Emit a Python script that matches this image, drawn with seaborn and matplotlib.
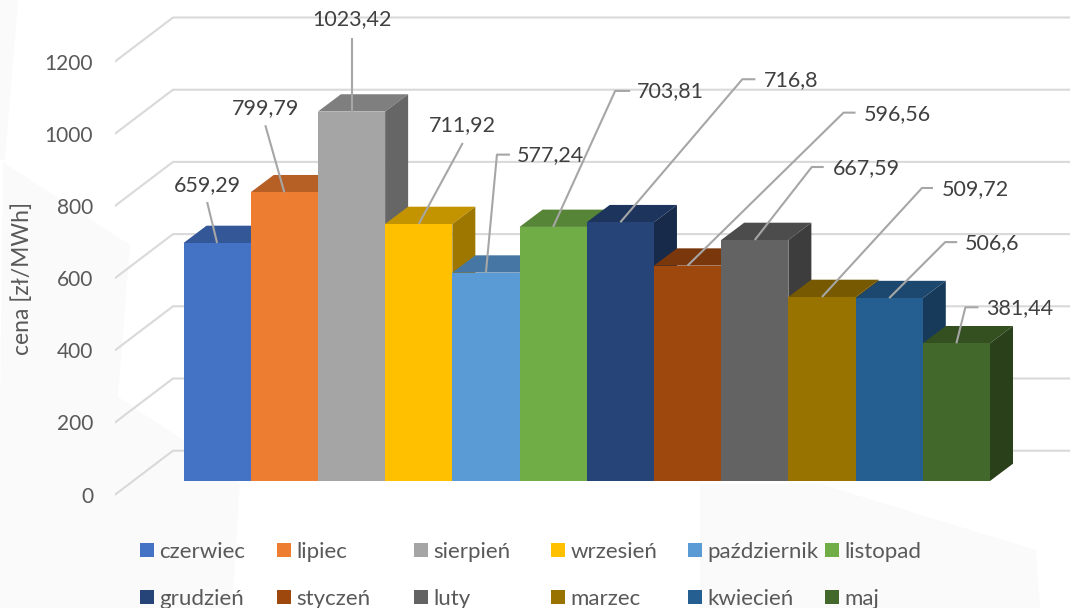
import matplotlib
matplotlib.use("Agg")
import matplotlib.pyplot as plt
import matplotlib.colors as mcolors
from matplotlib.patches import Polygon
from matplotlib.transforms import ScaledTranslation
import pandas as pd
import seaborn as sns

miesiace = ['czerwiec', 'lipiec', 'sierpień', 'wrzesień', 'październik', 'listopad',
            'grudzień', 'styczeń', 'luty', 'marzec', 'kwiecień', 'maj']
ceny = [659.29, 799.79, 1023.42, 711.92, 577.24, 703.81,
        716.8, 596.56, 667.59, 509.72, 506.6, 381.44]
etykiety = ['659,29', '799,79', '1023,42', '711,92', '577,24', '703,81',
            '716,8', '596,56', '667,59', '509,72', '506,6', '381,44']
kolory = ['#4472C4', '#ED7D31', '#A5A5A5', '#FFC000', '#5B9BD5', '#70AD47',
          '#264478', '#9E480E', '#636363', '#997300', '#255E91', '#43682B']
ticki = [0, 200, 400, 600, 800, 1000, 1200]

# uklad w pikselach
W, H = 1070, 608
BAR_L, BAR_R, BASE = 183.5, 990.0, 481.0
PX_Y = 0.361                    # piksele na 1 zl
PX_X = (BAR_R - BAR_L) / 12     # piksele na 1 slupek
AX_L = 115
DEPTH_X, DEPTH_Y = 23, 17.3     # glebokosc slupka
WALL_X, WALL_BACK, WALL_FRONT = 58, 30.3, 13.7

# odnosniki: (zalamanie dx, dy, koniec dx, tekst dx, tekst dy, wyrownanie)
odnosniki = [
    (-10, 41, -10, -10, 58, 'center'),
    (-19, 67, -19, -19, 84, 'center'),
    (0, 74, 0, 0, 92, 'center'),
    (44, 81, 44, 44, 99, 'center'),
    (11, 118, 24, 31, 118, 'left'),
    (62, 136, 77, 84, 136, 'left'),
    (122, 143, 135, 144, 142, 'left'),
    (156, 153, 168, 176, 152, 'left'),
    (57, 73, 69, 78, 72, 'left'),
    (100, 109, 111, 120, 108, 'left'),
    (56, 56, 68, 76, 55, 'left'),
    (9, 36, 22, 30, 35, 'left'),
]

tlo = [
    [(0, 0), (18, 0), (5, 160), (0, 160)],
    [(3, 162), (130, 245), (118, 397), (0, 420)],
    [(0, 420), (118, 397), (183, 440), (240, 484), (232, 608), (0, 608)],
    [(700, 484), (820, 484), (1036, 550), (1040, 608), (700, 608)],
]


def px2x(px):
    return (px - BAR_L) / PX_X - 0.5


def ciemniej(kolor, f):
    return tuple(c * f for c in mcolors.to_rgb(kolor))


df = pd.DataFrame({'miesiac': miesiace, 'cena': ceny})

sns.set_theme(style='white')
plt.rcParams['font.family'] = ['Lato', 'DejaVu Sans']

fig = plt.figure(figsize=(W / 100, H / 100), dpi=100, facecolor='#ffffff')
ax = fig.add_axes([AX_L / W, 0, 1 - AX_L / W, 1])
ax.patch.set_visible(False)

for wiel in tlo:
    fig.add_artist(Polygon([(x / W, 1 - y / H) for x, y in wiel], closed=True,
                           transform=fig.transFigure, fc='#fafafa', ec='none', zorder=-5))

sns.barplot(data=df, x='miesiac', y='cena', hue='miesiac', order=miesiace,
            hue_order=miesiace, palette=kolory, width=1.0, dodge=False,
            legend=False, saturation=1, ax=ax)

ax.set_xlim(px2x(AX_L), px2x(W))
ax.set_ylim(-(H - BASE) / PX_Y, BASE / PX_Y)
ax.set_xlabel('')
ax.set_xticks([])
sns.despine(ax=ax, left=True, bottom=True)

# sciany wykresu
for t in ticki:
    ax.plot([px2x(AX_L), px2x(AX_L + WALL_X), px2x(W)],
            [t - WALL_FRONT / PX_Y, t + WALL_BACK / PX_Y, t + WALL_BACK / PX_Y],
            color='#d9d9d9', lw=1.5, zorder=0.5, solid_joinstyle='miter')

# slupki 3D, od lewej do prawej
dx, dy = DEPTH_X / PX_X, DEPTH_Y / PX_Y
uchwyty = []
for i, (cena, kolor) in enumerate(zip(ceny, kolory)):
    x0, x1 = i - 0.5, i + 0.5
    ax.fill([x0, x1, x1 + dx, x0 + dx], [cena, cena, cena + dy, cena + dy],
            color=ciemniej(kolor, 0.77), lw=0, zorder=1 + 3 * i)
    ax.fill([x1, x1 + dx, x1 + dx, x1], [0, dy, cena + dy, cena],
            color=ciemniej(kolor, 0.62), lw=0, zorder=2 + 3 * i)
    front = ax.containers[i][0]
    front.set_zorder(3 + 3 * i)
    front.set_linewidth(0)
    uchwyty.append(front)

# etykiety danych z odnosnikami
for i, (cena, tekst, o) in enumerate(zip(ceny, etykiety, odnosniki)):
    ex, ey, kx, tx, ty, ha = o
    ax.plot([i, i + ex / PX_X, i + kx / PX_X],
            [cena, cena + ey / PX_Y, cena + ey / PX_Y],
            color='#a6a6a6', lw=1.5, zorder=60, solid_capstyle='butt')
    ax.text(i + tx / PX_X, cena + ty / PX_Y, tekst, ha=ha, va='center',
            fontsize=15.5, color='#404040', zorder=61)

# os y
ax.set_yticks(ticki)
ax.set_yticklabels([str(t) for t in ticki], fontsize=15, color='#595959')
ax.tick_params(axis='y', length=0, pad=15.8)
przes = ScaledTranslation(0, -WALL_FRONT / 100, fig.dpi_scale_trans)
for lab in ax.get_yticklabels():
    lab.set_transform(lab.get_transform() + przes)
ax.set_ylabel('cena [zł/MWh]', fontsize=16.5, color='#595959', va='center')
ax.yaxis.set_label_coords((22 - AX_L) / (W - AX_L), 1 - 278 / H)

# legenda, kolumny o rownej szerokosci
legendy = []
for k in range(6):
    leg = ax.legend(handles=[uchwyty[k], uchwyty[k + 6]],
                    labels=[miesiace[k], miesiace[k + 6]],
                    loc='upper left', frameon=False, fontsize=16,
                    labelcolor='#595959', bbox_to_anchor=((140 + 137 * k) / W, 1 - 542 / H),
                    bbox_transform=fig.transFigure, borderpad=0, borderaxespad=0,
                    handlelength=0.63, handleheight=0.63, handletextpad=0.25,
                    labelspacing=1.2)
    leg.set_zorder(70)
    legendy.append(leg)
ax.legend_ = None
for leg in legendy:
    ax.add_artist(leg)

fig.savefig('out.png', dpi=100)
